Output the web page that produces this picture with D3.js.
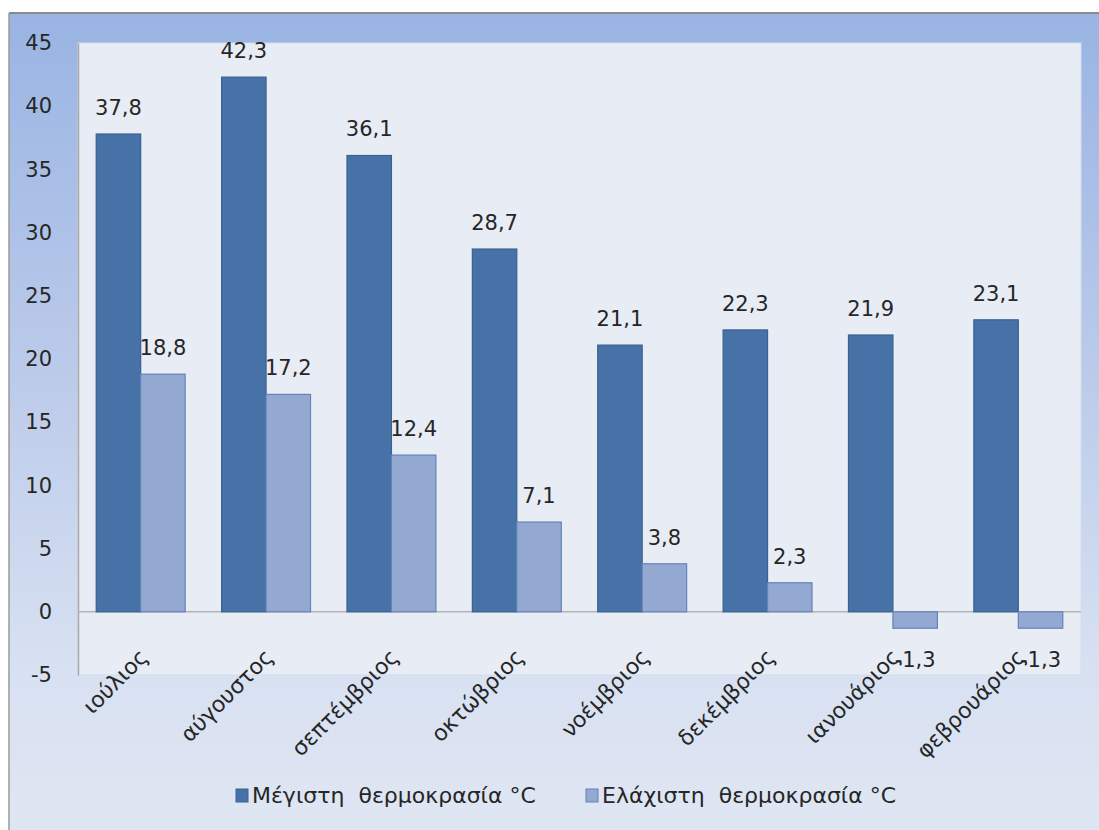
<!DOCTYPE html>
<html>
<head>
<meta charset="utf-8">
<script src="https://cdn.jsdelivr.net/npm/d3@7"></script>
<style>
  html, body { margin: 0; padding: 0; background: #ffffff; }
  svg { display: block; }
  text { font-family: "DejaVu Sans", sans-serif; fill: #262626; }
</style>
</head>
<body>
<svg id="chart" width="1099" height="830"></svg>
<script>
// Monthly temperatures (°C)
const months = ["ιούλιος", "αύγουστος", "σεπτέμβριος", "οκτώβριος", "νοέμβριος", "δεκέμβριος", "ιανουάριος", "φεβρουάριος"];
const maxTemps = [37.8, 42.3, 36.1, 28.7, 21.1, 22.3, 21.9, 23.1];
const minTemps = [18.8, 17.2, 12.4, 7.1, 3.8, 2.3, -1.3, -1.3];
const seriesNames = ["Μέγιστη  θερμοκρασία °C", "Ελάχιστη  θερμοκρασία °C"];
const yTicks = [-5, 0, 5, 10, 15, 20, 25, 30, 35, 40, 45];

const seriesKeys = ["max", "min"];
const seriesFill = { max: "#4672a8", min: "#94a9d2" };
const seriesStroke = { max: "#3b6192", min: "#6682ba" };

const rows = months.map((m, i) => ({ month: m, max: maxTemps[i], min: minTemps[i] }));

const svg = d3.select("#chart");
const W = 1099, H = 830;
const frame = { x: 9, y: 13 };
const plot = { left: 78, right: 1081, top: 43, bottom: 675 };

// Background gradient of the chart frame
const defs = svg.append("defs");
const grad = defs.append("linearGradient").attr("id", "bg").attr("x1", 0).attr("y1", 0).attr("x2", 0).attr("y2", 1);
grad.append("stop").attr("offset", "0%").attr("stop-color", "#99b4e3");
grad.append("stop").attr("offset", "45%").attr("stop-color", "#bccbea");
grad.append("stop").attr("offset", "80%").attr("stop-color", "#d8e1f2");
grad.append("stop").attr("offset", "100%").attr("stop-color", "#dfe6f3");

svg.append("rect").attr("x", frame.x).attr("y", frame.y)
  .attr("width", W - frame.x).attr("height", H - frame.y)
  .attr("fill", "url(#bg)");
// frame border (top and left)
svg.append("line").attr("x1", frame.x).attr("x2", W).attr("y1", frame.y).attr("y2", frame.y)
  .attr("stroke", "#8a8a8a").attr("stroke-width", 2);
svg.append("line").attr("x1", frame.x).attr("x2", frame.x).attr("y1", frame.y).attr("y2", H)
  .attr("stroke", "#9a9a9a").attr("stroke-width", 1.5);

// Plot area
svg.append("rect").attr("x", plot.left).attr("y", plot.top)
  .attr("width", plot.right - plot.left).attr("height", plot.bottom - plot.top)
  .attr("fill", "#e8ecf5").attr("stroke", "#d3dcee").attr("stroke-width", 1);

// Scales
const x0 = d3.scaleBand().domain(months).range([plot.left, plot.right]).padding(0);
const x1 = d3.scaleBand().domain(seriesKeys).range([0, x0.bandwidth()]).paddingInner(0).paddingOuter(0.41);
const y = d3.scaleLinear().domain([-5, 45]).range([plot.bottom, plot.top]);

// Y axis (plain hyphen for negatives)
const yAxis = d3.axisLeft(y).tickValues(yTicks).tickSize(0).tickPadding(26).tickFormat(d => String(d));
const gy = svg.append("g").attr("transform", `translate(${plot.left},0)`).call(yAxis);
gy.select(".domain").attr("stroke", "#a8a8a8").attr("stroke-width", 1.5);
gy.selectAll("text").style("font-size", "21px").attr("fill", "#262626")
  .attr("font-family", "DejaVu Sans, sans-serif");

// Zero line
svg.append("line").attr("x1", plot.left).attr("x2", plot.right)
  .attr("y1", y(0)).attr("y2", y(0)).attr("stroke", "#b4b4b4").attr("stroke-width", 1.5);

// Bars
const groups = svg.append("g").selectAll("g").data(rows).join("g")
  .attr("transform", d => `translate(${x0(d.month)},0)`);

groups.selectAll("rect").data(d => seriesKeys.map(k => ({ key: k, value: d[k] }))).join("rect")
  .attr("x", d => x1(d.key))
  .attr("width", x1.bandwidth())
  .attr("y", d => y(Math.max(0, d.value)))
  .attr("height", d => Math.abs(y(d.value) - y(0)))
  .attr("fill", d => seriesFill[d.key])
  .attr("stroke", d => seriesStroke[d.key])
  .attr("stroke-width", 1.2);

// Value labels
const fmt = v => String(v).replace(".", ",");
groups.selectAll("text.val").data(d => seriesKeys.map(k => ({ key: k, value: d[k] }))).join("text")
  .attr("class", "val")
  .attr("x", d => x1(d.key) + x1.bandwidth() / 2)
  .attr("y", d => d.value >= 0 ? y(d.value) - 19 : y(d.value) + 39)
  .attr("text-anchor", "middle")
  .style("font-size", "21px")
  .text(d => fmt(d.value));

// X category labels (rotated)
svg.append("g").selectAll("text").data(months).join("text")
  .attr("transform", d => `translate(${x0(d) + x0.bandwidth() / 2 + 3},${plot.bottom - 22}) rotate(-45)`)
  .attr("text-anchor", "end")
  .attr("dy", "0.35em")
  .style("font-size", "22px")
  .text(d => d);

// Legend
const legend = svg.append("g");
const legendX = [236, 586];
seriesKeys.forEach((k, i) => {
  legend.append("rect").attr("x", legendX[i]).attr("y", 789)
    .attr("width", 12).attr("height", 13)
    .attr("fill", seriesFill[k]).attr("stroke", seriesStroke[k]).attr("stroke-width", 1);
  legend.append("text").attr("x", legendX[i] + 16).attr("y", 803)
    .style("font-size", "22px").attr("xml:space", "preserve")
    .style("white-space", "pre")
    .text(seriesNames[i]);
});
</script>
</body>
</html>
